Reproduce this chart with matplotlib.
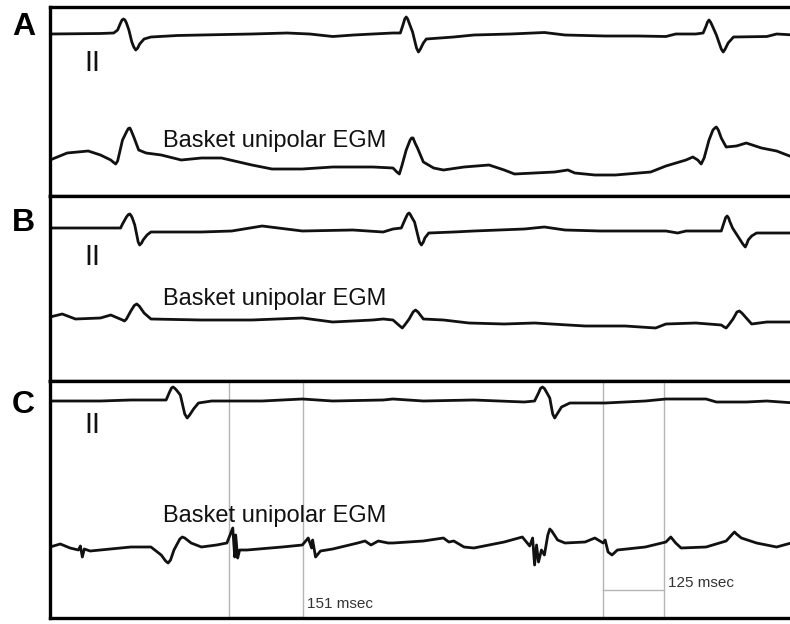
import numpy as np
import matplotlib.pyplot as plt

plt.rcParams['font.family'] = ['Liberation Sans', 'DejaVu Sans']

# ---- traces: time (ms) and amplitude (arbitrary units, up = positive) ----
# Panel A
a_ii_t = [0, 103, 130, 138, 144, 147, 150, 153, 156, 161, 167, 171, 175, 179, 183, 192, 206, 260,
          309, 360, 412, 484, 530, 577, 620, 659, 700, 715, 721, 724, 727, 730, 733, 740, 748, 752,
          756, 762, 768, 824, 865, 940, 1009, 1051, 1133, 1200, 1257, 1277, 1318, 1333, 1339,
          1342, 1345, 1348, 1351, 1360, 1370, 1374, 1378, 1384, 1395, 1463, 1483, 1520]
a_ii_v = [0, 0.5, 1, 4, 11, 14, 15, 14, 11, 4, -8, -13, -16, -14, -10, -5, -3, -1.5,
          -1, -0.5, 0, 1, 0, -2.5, -1, 0, 1, 1, 10, 15, 17, 15, 11, 2, -14, -18,
          -15, -9, -5, -3, -1, 0, 1.5, -1, -2, -2, -2.5, 0, 0, 1, 8,
          12, 14, 12, 9, -1, -15, -18, -15, -9, -3, -2.5, 0, -1]
a_egm_t = [0, 35, 78, 103, 124, 130, 134, 138, 148, 157, 160, 163, 166, 171, 181, 196, 227, 268,
           309, 350, 412, 453, 515, 577, 659, 700, 708, 713, 718, 727, 735, 738, 741, 745, 750,
           762, 783, 803, 845, 896, 927, 948, 1030, 1057, 1071, 1112, 1154, 1226, 1257, 1298,
           1312, 1322, 1329, 1335, 1345, 1353, 1357, 1360, 1364, 1370, 1380, 1401, 1421, 1452,
           1483, 1520]
a_egm_v = [0, 7, 9, 5, 0, -2.5, -4, -1, 20, 29, 31.5, 32, 29, 23, 10, 7, 5, 0,
           2, 2, -5, -9, -9, -7, -7, -8, -12, -14, -6, 10, 20, 22, 22, 17, 12,
           -2, -8, -10, -7, -5, -10, -14, -12, -10, -13, -15, -15, -12, -6, 0,
           3, 0, -4, 2, 20, 30, 32, 33, 30, 22, 13, 14, 17, 12, 9, 2]

# Panel B
b_ii_t = [0, 103, 144, 148, 156, 160, 163, 166, 168, 173, 180, 183, 187, 190, 198, 206, 309, 371,
          433, 515, 618, 680, 700, 717, 725, 730, 733, 736, 738, 744, 754, 758, 762, 765, 773, 824,
          865, 968, 1009, 1051, 1123, 1257, 1281, 1298, 1370, 1376, 1379, 1382, 1385, 1387, 1393,
          1414, 1419, 1422, 1425, 1432, 1442, 1520]
b_ii_v = [0, 0, 0, 4, 11, 13.5, 14, 12, 10, 3, -14, -17, -15, -12, -7, -4, -4, -3,
          2, -3, -2, -4, -1, 0, 9, 14, 15, 13, 11, 6, -14, -17, -14, -10, -5, -4,
          -3, -1, 1, -2, -3, -3, -5, -3, -3, 6, 10.5, 12, 10, 7, 0,
          -16, -19, -16, -12, -8, -5, -5]
b_egm_t = [0, 25, 52, 103, 124, 148, 152, 156, 165, 172, 177, 182, 192, 206, 309, 412, 515, 577,
           659, 680, 700, 714, 719, 724, 733, 741, 746, 751, 762, 803, 855, 927, 989, 1092, 1174,
           1236, 1257, 1318, 1370, 1376, 1380, 1385, 1394, 1402, 1407, 1412, 1432, 1463, 1520]
b_egm_v = [0, 3, -2, -1, 2, -3, -4, -2, 6, 11.5, 13, 11, 4, -2, -3, -3, -1, -5,
           -3, -2, -3, -9, -11, -8, -2, 5, 7, 5, -2, -3, -6, -7, -6, -9, -9,
           -11, -7, -6, -8, -10, -11, -8, -2, 5, 6, 4, -7, -5, -5]

# Panel C
c_ii_t = [0, 103, 165, 237, 244, 248, 251, 254, 258, 266, 275, 280, 285, 293, 303, 330, 433, 515,
          577, 680, 700, 762, 865, 968, 989, 997, 1001, 1005, 1009, 1012, 1020, 1026, 1030, 1035,
          1044, 1061, 1133, 1215, 1257, 1339, 1360, 1421, 1463, 1520]
c_ii_v = [0, 0, 1, 1, 9, 13, 14, 13, 11, 6, -13, -17, -14, -8, -2, 0, 0, 2,
          0, 1, 2, 0, 1, -1, 0, 8, 12.5, 14, 12.5, 10, 3, -13, -17, -13,
          -6, -2, -2, 0, 2, 2, -1, -1, 0, -2]
c_egm_t = [0, 21, 41, 58, 62, 66, 70, 82, 165, 206, 227, 236, 241, 246, 253, 265, 270, 275, 288,
           309, 340, 361, 373, 377, 379, 383, 387, 402, 474, 515, 527, 534, 536, 542, 552, 577,
           628, 643, 655, 670, 690, 700, 762, 803, 814, 824, 845, 865, 927, 964, 979, 985, 989,
           993, 997, 1003, 1009, 1016, 1020, 1024, 1036, 1051, 1092, 1112, 1129, 1133, 1139,
           1147, 1158, 1215, 1257, 1267, 1277, 1288, 1339, 1380, 1393, 1397, 1401, 1411, 1442,
           1483, 1520]
c_egm_v = [0, 3, -1, -3, 1, -10, -2, -4, 0, 0, -8, -14, -16, -13, -3, 8, 10, 9, 4,
           0, 2, 4, 19, -10, 12, -11, -3, -3, 0, 2, 9, -1, 7, -10, -4, -2,
           4, 6, 2, 6, 4, 4, 6, 9, 5, 6, 0, -1, 5, 10, 1, 9, -18,
           2, -15, -3, -8, 12, 18, 16, 7, 4, 5, 9, 4, 7, -5,
           -8, -3, 0, 5, 10, 4, -1, 0, 6, 13, 15, 13, 9, 4,
           0, 5]

# calipers in panel C
cal_start = [366, 1129]
cal_len = [151, 125]
cal_labels = ["151 msec", "125 msec"]

# ---- layout (pixel rows of the 790x624 figure) ----
W, H = 790, 624
panels = [
    # letter, top row, bottom row, lead II baseline, EGM baseline, II text row, EGM text row, letter row
    ("A", 7, 196, 34, 160, 71, 147, 35),
    ("B", 196, 381, 228, 317, 265, 305, 231),
    ("C", 381, 618, 401, 547, 433, 522, 413),
]
traces = [
    ((a_ii_t, a_ii_v), (a_egm_t, a_egm_v)),
    ((b_ii_t, b_ii_v), (b_egm_t, b_egm_v)),
    ((c_ii_t, c_ii_v), (c_egm_t, c_egm_v)),
]
x_left = 50
ms_per_px = 2.06
t_max = (W - x_left) * ms_per_px + 2
ink = '#111111'

fig = plt.figure(figsize=(W / 100, H / 100), dpi=100)

axes = []
for (letter, top, bot, b_ii, b_egm, r_ii, r_egm, r_let), (ii, egm) in zip(panels, traces):
    ax = fig.add_axes([x_left / W, 1 - bot / H, 1.01 - x_left / W, (bot - top) / H])
    ax.set_xlim(0, t_max)
    ax.set_ylim(bot, top)
    ax.plot(ii[0], b_ii - np.array(ii[1]), color=ink, lw=2.0, solid_joinstyle='round')
    ax.plot(egm[0], b_egm - np.array(egm[1]), color=ink, lw=2.0, solid_joinstyle='round')
    ax.text((84 - x_left) * ms_per_px, r_ii, "II", fontsize=21, va='baseline', ha='left', color=ink)
    ax.text((162 - x_left) * ms_per_px, r_egm, "Basket unipolar EGM", fontsize=17,
            va='baseline', ha='left', color=ink)
    ax.set_xticks([])
    ax.set_yticks([])
    for s in ['left', 'top', 'bottom']:
        ax.spines[s].set_linewidth(2.4)
        ax.spines[s].set_color('black')
    ax.spines['right'].set_visible(False)
    fig.text(12 / W, 1 - r_let / H, letter, fontsize=23, fontweight='bold', va='baseline', ha='left')
    axes.append(ax)

axc = axes[2]
cal_rows = [616.5, 590]
text_rows = [608, 587]
for t0, L, lab, rr, tr in zip(cal_start, cal_len, cal_labels, cal_rows, text_rows):
    for tt in (t0, t0 + L):
        axc.axvline(tt, color='#b5b5b5', lw=1.0, zorder=0)
    axc.plot([t0, t0 + L], [rr, rr], color='#b5b5b5', lw=1.0, zorder=0)
    axc.text(t0 + L + 8, tr, lab, fontsize=11, color='#333333', va='baseline', ha='left')

fig.savefig("out.png", dpi=100)
